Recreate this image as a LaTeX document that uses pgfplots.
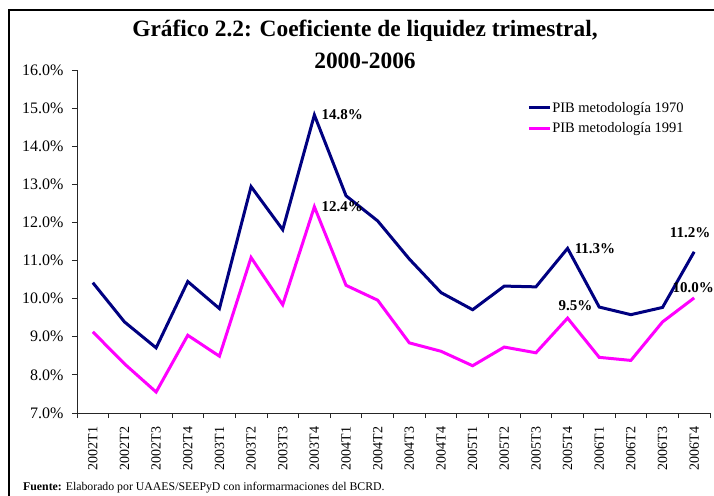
\documentclass[border=0pt]{standalone}
\usepackage{pgfplots}
\pgfplotsset{compat=1.18}
\usepackage{fontspec}
\setmainfont{Liberation Serif}
\definecolor{navyc}{RGB}{0,0,128}
\definecolor{magc}{RGB}{255,0,255}
\begin{document}
\begin{tikzpicture}
\begin{axis}[
 at={(0,0)}, anchor=south west,
 scale only axis, width=633bp, height=343bp,
 xmin=-0.5, xmax=19.5, ymin=7, ymax=16,
 axis x line*=bottom, axis y line*=left,
 axis line style={line width=0.8bp, draw=black!85},
 tick style={line width=0.8bp, draw=black!85},
 tick align=outside,
 major tick length=5bp, minor tick length=5bp,
 xtick={0,...,19},
 xticklabels={2002T1,2002T2,2002T3,2002T4,2003T1,2003T2,2003T3,2003T4,2004T1,2004T2,2004T3,2004T4,2005T1,2005T2,2005T3,2005T4,2006T1,2006T2,2006T3,2006T4},
 major x tick style={draw=none},
 minor xtick={-0.5,0.5,...,19.5},
 xticklabel style={yshift=-5bp, rotate=90, anchor=east, font=\fontsize{14bp}{16bp}\selectfont},
 ytick={7,...,16},
 yticklabel={\pgfmathprintnumber[fixed,fixed zerofill,precision=1]{\tick}\%},
 yticklabel style={font=\fontsize{16bp}{18bp}\selectfont, xshift=-5bp},
 /pgf/number format/assume math mode=true,
 legend style={at={(0.711,0.91)}, anchor=north west, draw=none, fill=none,
   font=\fontsize{14.5bp}{16bp}\selectfont, row sep=7bp, inner sep=0pt,
   nodes={inner sep=1bp}},
 legend cell align=left,
 legend image code/.code={\draw[#1] (0bp,0bp)--(21bp,0bp);},
 clip=false,
]
\addplot[navyc, line width=3bp] coordinates {
(0,10.42) (1,9.39) (2,8.71) (3,10.45) (4,9.74) (5,12.94) (6,11.81) (7,14.82) (8,12.70) (9,12.04)
(10,11.04) (11,10.16) (12,9.71) (13,10.33) (14,10.31) (15,11.32) (16,9.78) (17,9.58) (18,9.77) (19,11.23)};
\addlegendentry{PIB metodología 1970}
\addplot[magc, line width=3bp] coordinates {
(0,9.13) (1,8.29) (2,7.55) (3,9.04) (4,8.49) (5,11.08) (6,9.84) (7,12.41) (8,10.35) (9,9.96)
(10,8.84) (11,8.62) (12,8.24) (13,8.73) (14,8.58) (15,9.49) (16,8.46) (17,8.38) (18,9.39) (19,10.02)};
\addlegendentry{PIB metodología 1991}
\begin{scope}[every node/.style={font=\fontsize{15bp}{16bp}\selectfont\bfseries, inner sep=0pt}]
\node[anchor=west, xshift=7bp] at (axis cs:7,14.82) {14.8\%};
\node[anchor=west, xshift=7bp] at (axis cs:7,12.41) {12.4\%};
\node[anchor=west, xshift=7bp] at (axis cs:15,11.32) {11.3\%};
\node[xshift=-4bp, yshift=19bp] at (axis cs:19,11.23) {11.2\%};
\node[xshift=-1bp, yshift=10bp] at (axis cs:19,10.02) {10.0\%};
\node[xshift=8bp, yshift=12bp] at (axis cs:15,9.49) {9.5\%};
\end{scope}
\end{axis}
\node[font=\fontsize{23.4bp}{25bp}\selectfont\bfseries] at (288bp,382bp) {Gráfico 2.2: Coeficiente de liquidez trimestral,};
\node[font=\fontsize{23.4bp}{25bp}\selectfont\bfseries] at (288bp,352bp) {2000-2006};
\node[anchor=base west, inner sep=0pt, font=\fontsize{11.8bp}{13bp}\selectfont] at (-54bp,-77bp) {\textbf{Fuente:} Elaborado por UAAES/SEEPyD con informarmaciones del BCRD.};
\draw[line width=1.5bp] (-68bp,-100bp) -- (-68bp,403bp) -- (700bp,403bp);
\pgfresetboundingbox
\path (-77bp,-83bp) rectangle (637bp,413bp);
\end{tikzpicture}
\end{document}
